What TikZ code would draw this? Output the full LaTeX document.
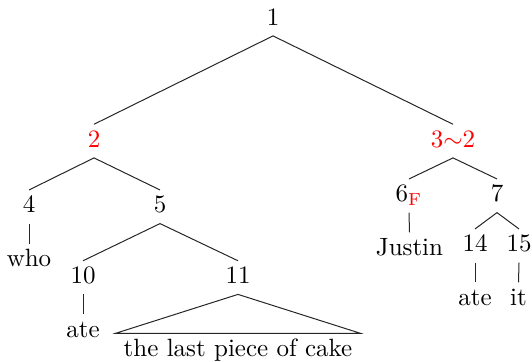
\documentclass[tikz,border=0pt]{standalone}
\usepackage{xcolor}
\begin{document}
\begin{tikzpicture}[x=0.4pt,y=-0.4pt,
  tn/.style={inner sep=2pt, text height=1.6ex, text depth=0.5ex, anchor=base},
  rd/.style={text=red},
  edge/.style={draw=black!85, line width=0.4pt}]
\useasboundingbox (0,0) rectangle (532,361);
\node[tn] (n1) at (273,25) {1};
\node[tn,rd] (n2) at (94,147) {2};
\node[tn,rd] (n3) at (453,147) {3$\sim$2};
\node[tn] (n4) at (29,212.7) {4};
\node[tn] (n5) at (160,212.7) {5};
\node[tn] (who) at (29,266.3) {who};
\node[tn] (n10) at (83,283.5) {10};
\node[tn] (n11) at (238,283.5) {11};
\node[tn] (ate1) at (83,337) {ate};
\node[tn,inner xsep=3pt] (cake) at (238,356) {the last piece of cake};
\node[tn] (n6) at (409,201.7) {6\textsubscript{\textcolor{red}{F}}};
\node[tn] (n7) at (497,201.7) {7};
\node[tn] (justin) at (409.5,255) {Justin};
\node[tn] (n14) at (475,251.7) {14};
\node[tn] (n15) at (519,251.7) {15};
\node[tn] (ate2) at (475,305) {ate};
\node[tn] (it) at (518.5,305) {it};
\draw[edge] (n2.north) -- (n1.south) -- (n3.north);
\draw[edge] (n4.north) -- (n2.south) -- (n5.north);
\draw[edge] (n4.south) -- (who.north);
\draw[edge] (n10.north) -- (n5.south) -- (n11.north);
\draw[edge] (n10.south) -- (ate1.north);
\draw[edge] (n11.south) -- (cake.north west) -- (cake.north east) -- cycle;
\draw[edge] (n6.north) -- (n3.south) -- (n7.north);
\draw[edge] (n6.south) -- (justin.north);
\draw[edge] (n14.north) -- (n7.south) -- (n15.north);
\draw[edge] (n14.south) -- (ate2.north);
\draw[edge] (n15.south) -- (it.north);
\end{tikzpicture}
\end{document}
